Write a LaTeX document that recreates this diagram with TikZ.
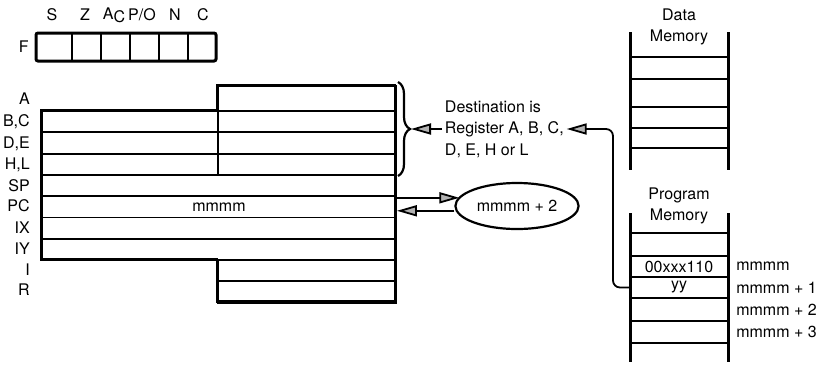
\documentclass[tikz,border=0pt]{standalone}
\usepackage{fontspec}
\setmainfont{TeX Gyre Heros}
\usetikzlibrary{positioning,shapes.geometric,arrows.meta,decorations.pathreplacing,calc}

\begin{document}
\begin{tikzpicture}[x=1pt,y=-1pt,line width=1.9pt,font=\fontsize{16}{21.5}\selectfont,
    regrow/.style={draw,rectangle,anchor=north west,inner sep=0pt,minimum height=21.3pt},
    memcell/.style={inner sep=0pt,minimum width=98pt,minimum height=21pt},
    rail/.style={line width=3pt},
    arr/.style={-{Triangle[length=20pt,width=11pt,fill=gray!60]},line width=1.8pt}]
    \useasboundingbox (0,0) rectangle (834,365);
    % flag register
    \draw[line width=3pt,rounded corners=2pt] (36,33) rectangle (216,61);
    \foreach \x in {72,101,130,159,188} \draw (\x,33) -- (\x,61);
    \node[anchor=east] (flbl) at (33,47) {F};
    \foreach \f/\x [count=\i] in {S/52,Z/85,A\raisebox{-0.4ex}{C}/114,{P/O}/142,N/175,C/203}
      \node (flag\i) at (\x,15) {\f};
    % main register set
    \node[regrow,minimum width=178pt,minimum height=25pt] (regA) at (217,85) {};
    \foreach \l/\r [count=\i] in {B/C,D/E,H/L}{%
      \node[regrow,minimum width=176pt] (reg\l) at (41,{110+21.3*(\i-1)}) {};
      \node[regrow,minimum width=178pt] (reg\r) at (217,{110+21.3*(\i-1)}) {};}
    \foreach \n [count=\i] in {SP,PC,IX,IY}
      \node[regrow,minimum width=354pt] (reg\n) at (41,{173.9+21.3*(\i-1)}) {};
    \foreach \n [count=\i] in {I,R}
      \node[regrow,minimum width=178pt] (reg\n) at (217,{259.1+21.3*(\i-1)}) {};
    \draw[line width=2.8pt] (41,110) -- (217,110) -- (217,85) -- (395,85) -- (395,301.7)
      -- (217,301.7) -- (217,259.1) -- (41,259.1) -- cycle;
    \node (pcval) at (regPC.center) {mmmm};
    \foreach \t/\y [count=\i] in {A/99,{B,C}/122,{D,E}/144,{H,L}/165,SP/186,PC/206,IX/228,IY/249,I/270,R/290}
      \node[anchor=east] (rlbl\i) at (34,\y) {\t};
    % destination note
    \draw[decorate,decoration={brace,amplitude=12pt},line width=2.2pt] (398,82) -- (398,176);
    \coordinate (bracetip) at (411,129);
    \node[align=left,anchor=west,inner sep=2pt] (dest) at (442,129) {Destination is\\Register A, B, C,\\D, E, H or L};
    \draw[arr] (dest.west) -- (dest.west -| bracetip);
    % PC increment
    \node[ellipse,draw,line width=2.2pt,minimum width=121pt,minimum height=46pt] (inc) at (517,206) {mmmm + 2};
    \coordinate (pcout) at ($(regPC.east)+(0,-9)$);
    \coordinate (pcin) at ($(regPC.east)+(0,4)$);
    \draw[arr] (pcout) -- ($(pcout -| inc.west)+(5,0)$);
    \draw[arr] (pcin -| inc.west) -- (pcin);
    % data memory
    \node[align=center] (dmtitle) at (679,27) {Data\\Memory};
    \draw[rail] (630,32) -- (630,170);
    \draw[rail] (728,32) -- (728,170);
    \foreach \y in {57,79,107,128,148} \draw (630,\y) -- (728,\y);
    % program memory
    \node[align=center] (pmtitle) at (679,206) {Program\\Memory};
    \draw[rail] (630,213) -- (630,362);
    \draw[rail] (728,213) -- (728,362);
    \foreach \y in {233,256,277,298,321,343} \draw (630,\y) -- (728,\y);
    \node[memcell] (op) at (679,266.5) {00xxx110};
    \node[memcell] (yy) at (679,287.5) {yy};
    \foreach \t/\y [count=\i] in {mmmm/266.5,mmmm + 1/287.5,mmmm + 2/309.5,mmmm + 3/332}
      \node[anchor=west] (addr\i) at (732,\y) {\t};
    \coordinate (bend) at (613,0);
    \draw[arr,rounded corners=7pt] (yy.west) -- (yy.west -| bend) -- (bend |- dest.east) -- (dest.east);
\end{tikzpicture}
\end{document}
